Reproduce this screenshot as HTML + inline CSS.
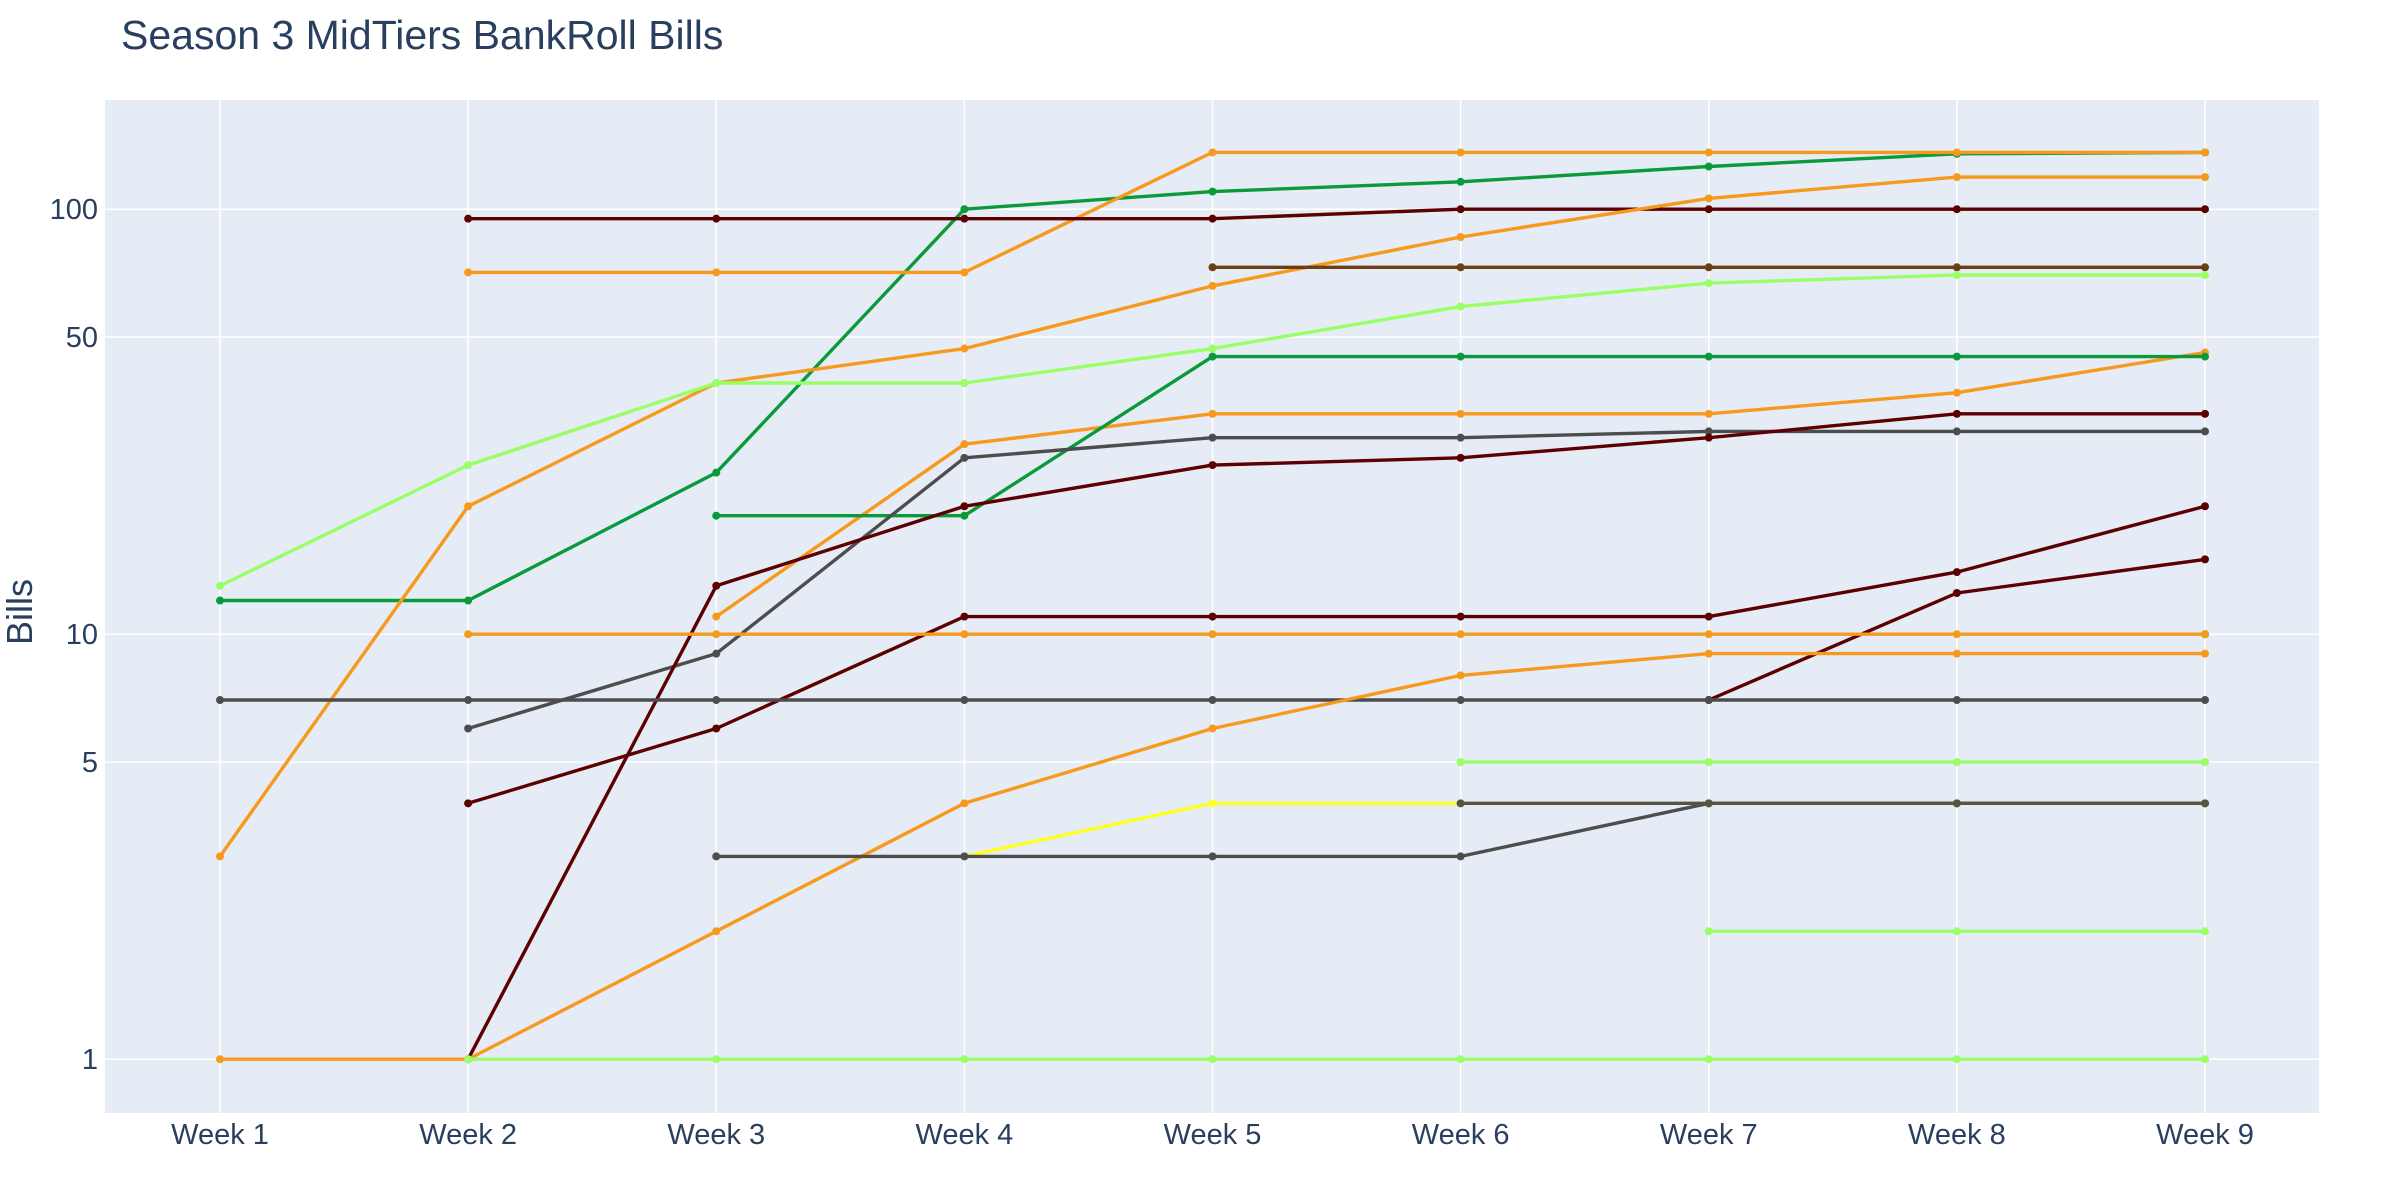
<!DOCTYPE html>
<html><head><meta charset="utf-8">
<style>
html,body{margin:0;padding:0;background:#fff;}
svg{display:block;font-family:"Liberation Sans",sans-serif;}
</style></head>
<body>
<svg id="chart" width="2400" height="1200" viewBox="0 0 2400 1200" xmlns="http://www.w3.org/2000/svg">
<rect x="0" y="0" width="2400" height="1200" fill="#fff"/>
<text x="121" y="49" font-size="41" fill="#2a3f5f">Season 3 MidTiers BankRoll Bills</text>
<rect x="105" y="100" width="2214" height="1013" fill="#e5ecf6"/>
<g id="grid"></g>
<g id="series"></g>
<g id="axes"></g>
<text transform="translate(32,612) rotate(-90)" text-anchor="middle" font-size="36" fill="#2a3f5f">Bills</text>
</svg>
<script>
const categories = ["Week 1","Week 2","Week 3","Week 4","Week 5","Week 6","Week 7","Week 8","Week 9"];
const yTickValues = [1,5,10,50,100];
const yTickLabels = ["1","5","10","50","100"];
const seriesNames = ["green-a","orange-a","darkred-a","orange-b","orange-c","brown-a","lightgreen-a","green-b","gray-a","darkred-b","darkred-c","darkred-d","gray-b","green-c","orange-d","orange-e","lightgreen-b","yellow-a","gray-c","olive-a","lightgreen-c","lightgreen-d"];
const seriesColors = ["#0a9a3a","#f7991c","#5c0000","#f7991c","#f7991c","#6b3e14","#99ff66","#0a9a3a","#4d4d4d","#5c0000","#5c0000","#5c0000","#4d4d4d","#0a9a3a","#f7991c","#f7991c","#99ff66","#ffff22","#4d4d4d","#555540","#99ff66","#99ff66"];
const s01 = [12,12,24,100,110,116,126,135,136];
const s02 = [null,71,71,71,136,136,136,136,136];
const s03 = [null,95,95,95,95,100,100,100,100];
const s04 = [null,null,11,28,33,33,33,37,46];
const s05 = [3,20,39,47,66,86,106,119,119];
const s06 = [null,null,null,null,73,73,73,73,73];
const s07 = [13,25,39,39,47,59,67,70,70];
const s08 = [null,null,19,19,45,45,45,45,45];
const s09 = [null,6,9,26,29,29,30,30,30];
const s10 = [null,1,13,20,25,26,29,33,33];
const s11 = [null,4,6,11,11,11,11,14,20];
const s12 = [null,null,null,null,null,null,7,12.5,15];
const s13 = [7,7,7,7,7,7,7,7,7];
const s14 = [null,null,null,null,null,null,null,null,10];
const s15 = [null,10,10,10,10,10,10,10,10];
const s16 = [1,1,2,4,6,8,9,9,9];
const s17 = [null,null,null,null,null,5,5,5,5];
const s18 = [null,null,null,3,4,4,null,null,null];
const s19 = [null,null,3,3,3,3,4,4,4];
const s20 = [null,null,null,null,null,4,4,4,4];
const s21 = [null,null,null,null,null,null,2,2,2];
const s22 = [null,1,1,1,1,1,1,1,1];
const allSeries = [s01,s02,s03,s04,s05,s06,s07,s08,s09,s10,s11,s12,s13,s14,s15,s16,s17,s18,s19,s20,s21,s22];

const NS="http://www.w3.org/2000/svg";
const PL=105, PR=2319, PT=100, PB=1113;
function xPos(i){return 220 + i*(2205-220)/(categories.length-1);}
function yPos(v){return 1059.2 - 425*Math.log10(v);}
function mk(tag,attrs,parent){const e=document.createElementNS(NS,tag);for(const k in attrs)e.setAttribute(k,attrs[k]);parent.appendChild(e);return e;}
const grid=document.getElementById('grid'), axes=document.getElementById('axes'), ser=document.getElementById('series');
categories.forEach((c,i)=>{
  const l=mk('line',{x1:xPos(i),x2:xPos(i),y1:PT,y2:PB,stroke:'#fff','stroke-width':1.5},grid);
  
  
  const t=mk('text',{x:xPos(i),y:1144,'text-anchor':'middle','font-size':29,fill:'#2a3f5f'},axes);
  t.textContent=c;
  
  
});
yTickValues.forEach((v,i)=>{
  const y=yPos(v);
  const l=mk('line',{x1:PL,x2:PR,y1:y,y2:y,stroke:'#fff','stroke-width':1.5},grid);
  
  
  const t=mk('text',{x:98,y:y+10,'text-anchor':'end','font-size':29,fill:'#2a3f5f'},axes);
  t.textContent=yTickLabels[i];
  
  
});
allSeries.forEach((arr,si)=>{
  const g=mk('g',{},ser);
  
  
  const col=seriesColors[si];
  let d='', pen=false;
  arr.forEach((v,i)=>{
    if(v==null){pen=false;return;}
    d+=(pen?'L':'M')+xPos(i).toFixed(1)+','+yPos(v).toFixed(1)+' ';
    pen=true;
  });
  const p=mk('path',{d:d,fill:'none',stroke:col,'stroke-width':3.4,'stroke-linejoin':'round'},g);
  
  
  arr.forEach((v,i)=>{
    if(v==null)return;
    const c=mk('circle',{cx:xPos(i),cy:yPos(v),r:4,fill:col},g);
    
    
  });
});
</script>
</body></html>
